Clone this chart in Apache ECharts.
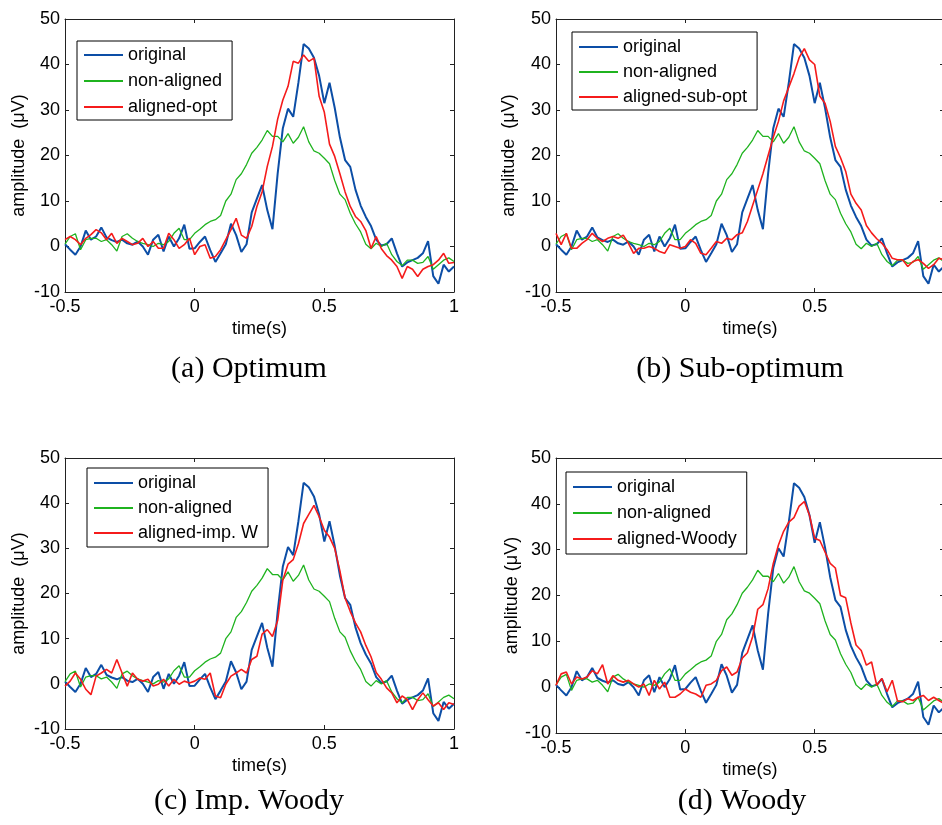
<!DOCTYPE html>
<html>
<head>
<meta charset="utf-8">
<script src="https://cdn.jsdelivr.net/npm/echarts@6/dist/echarts.min.js"></script>
<style>
  html, body { margin: 0; padding: 0; background: #fff; }
  #main { width: 942px; height: 825px; }
</style>
</head>
<body>
<div id="main"></div>
<script>
// sample times (s), 20 ms apart
const time = [];
for (let i = 0; i <= 75; i++) time.push(Math.round((-0.5 + i * 0.02) * 100) / 100);

// amplitudes (uV)
const original = [0.5, -0.7, -1.8, 0, 3.5, 1.5, 2.2, 4.2, 2, 1.4, 1, 1.5, 0.7, 0.4, 1.1, 0, -1.8, 1.5, 2.6, -1.1,
  2.2, 0, 1.8, 4.8, -0.5, -0.4, 1, 2.2, -0.8, -3.4, -1.5, 0.5, 5, 2.5, -1.2, 0.5, 7.5, 10.5, 13.5, 8,
  3.8, 16, 26, 30.3, 28.5, 36, 44.5, 43.5, 41.5, 37.5, 31.5, 36, 30.5, 24, 19, 17.5, 12.5, 9, 6.5, 4.5,
  1.5, 0.2, 0.5, 1.8, -1.5, -4.4, -3.5, -3, -2.5, -1.5, 1.2, -6.5, -8.2, -4, -5.5, -4.4];
const nonAligned = [0.5, 2.2, 2.8, -0.7, 1.5, 1.8, 1.8, 1.1, 1.5, 0.4, -1, 2.2, 2.8, 1.8, 1.1, 0.7, 0.4, 0, 0.7, 0.4,
  1.1, 2.9, 4, 1.5, 1.5, 2.9, 3.8, 4.8, 5.5, 5.9, 6.8, 10, 11.5, 14.7, 16, 18, 20.5, 21.8, 23.4, 25.5,
  24.2, 24.2, 23, 24.8, 22.7, 24, 26.3, 23, 21, 20.5, 19.4, 18.2, 14.5, 11.5, 10.3, 7.3, 5, 3.2, 0.5, -0.5,
  0.7, 0, 0.7, -1.8, -3.3, -4.2, -3, -3, -3.7, -3.5, -2.2, -5, -4, -3, -2.5, -3.3];
const alignedOpt = [1.5, 2.2, 1.5, 0.4, 1.8, 2.6, 3.7, 3, 1.5, 2.9, 0.7, 1.8, 1.1, 0.4, 0.7, 1.8, 0, 1.1, -0.4, -0.4,
  2.9, 1.5, -0.4, 0.4, 1.8, -1.8, 0, 0.4, -2.6, -2.2, -0.7, 1.5, 3.7, 6.2, 2.5, 1.8, 4.4, 8.8, 12, 17.6,
  22, 28, 32.2, 35.2, 40.7, 40.3, 42.1, 40.7, 41.4, 33, 29.5, 22.5, 19.8, 16, 12, 8.8, 6.6, 5.5, 3.5, -0.4,
  2.2, -0.5, -2, -3, -4.4, -7, -4.4, -5, -6.6, -5, -4.4, -4, -3, -1.5, -3.7, -3.5];
const alignedSubOpt = [2.9, 0.4, 2.9, -0.4, -0.4, 0.7, 1.5, 2.9, 1.8, 1.1, 1.8, 2.2, 1.8, 2.5, 0.7, -1.5, -0.4, -0.4, 0, -0.4,
  -1.1, -1.5, 0.4, 0, -0.4, 0, 1.5, 0.7, -1.5, -1.8, -0.4, 1.1, 0.7, 1.8, 1.5, 2.6, 3, 5.5, 9, 12.5,
  16, 20, 24, 27.5, 32, 35, 38, 41.5, 43.5, 41, 40, 33, 31.5, 27.5, 22, 19.5, 16.5, 11.5, 9.5, 8,
  4.6, 3, 1.7, 0.7, -0.7, -2.6, -2.9, -2.9, -4.4, -3.3, -2.9, -3.7, -4.8, -4, -2.6, -2.9];
const alignedImpW = [-0.5, 0.6, 2.4, 1, -1.2, -2.4, 1.7, 2.4, 3.2, 2.4, 5.4, 2.4, -0.5, 2.4, 1, 0.6, 1, -0.5, -0.1, 1,
  -0.5, 1, -0.1, 0.6, 0.2, 0.6, 1.3, 1, 2.4, -2.7, -3.1, -0.1, 1.7, 2.4, 3.2, 2.4, 5.4, 6.1, 11, 12,
  10.5, 14, 23, 26.5, 27.5, 31, 35.5, 37.5, 39.5, 37, 34, 32.5, 30, 25, 19, 16, 13.5, 11.5, 8.5, 6,
  2.5, 1, -0.9, -2, -4.2, -2.7, -3.5, -5.7, -3.5, -2, -3.5, -4.9, -4.2, -5.7, -4.2, -4.6];
const alignedWoody = [0.4, 2.9, 3.3, 0.7, 2.2, 1.8, 2.2, 3.6, 2.9, 4.9, 0.7, 2.5, 1.5, 1.1, 1.5, 0.7, 0, 0.7, -1.8, 1.5,
  -0.4, 1.1, -2.2, -2.2, -1.5, -0.4, -1.1, -1.5, -2.2, 0.4, 0.7, 1.5, 3.6, 4.4, 2.6, 3.3, 6.3, 7.5, 11, 17,
  18, 21.5, 27, 31, 34, 36, 37, 39.5, 40.5, 37.5, 32.5, 32, 29.5, 27, 26, 20, 19.5, 14, 9.2, 8,
  4.8, 5.5, 0.4, 1.9, -1, 1.5, -3, -3.2, -2.5, -2.9, -2.2, -1.8, -2.9, -2.2, -2.9, -3.6];

const xTicks = [-0.5, 0, 0.5, 1];
const yTicks = [-10, 0, 10, 20, 30, 40, 50];

const BLUE = '#0c4ea6', GREEN = '#1fb31f', RED = '#f51b1b', AXIS = '#222';
const SANS = 'Liberation Sans, Arial, sans-serif';

const panels = [
  { grid: { left: 65, top: 19, width: 389, height: 273 },
    legend: { left: 77, top: 41, padding: [4, 10, 3, 7], itemGap: 6 },
    red: alignedOpt, redName: 'aligned-opt', yName: 'amplitude  (\u03bcV)', yGap: 37,
    caption: '(a) Optimum', cx: 249, cy: 369, lastX: true },
  { grid: { left: 556, top: 19, width: 388, height: 273 },
    legend: { left: 572, top: 32, padding: [5, 10, 3, 7], itemGap: 5 },
    red: alignedSubOpt, redName: 'aligned-sub-opt', yName: 'amplitude  (\u03bcV)', yGap: 38,
    caption: '(b) Sub-optimum', cx: 740, cy: 369, lastX: false },
  { grid: { left: 65, top: 458, width: 389, height: 271 },
    legend: { left: 87, top: 468, padding: [5, 10, 4, 7], itemGap: 5 },
    red: alignedImpW, redName: 'aligned-imp. W', yName: 'amplitude  (\u03bcV)', yGap: 37,
    caption: '(c) Imp. Woody', cx: 249, cy: 801, lastX: true },
  { grid: { left: 556, top: 458, width: 388, height: 275 },
    legend: { left: 566, top: 472, padding: [5, 10, 5, 7], itemGap: 6 },
    red: alignedWoody, redName: 'aligned-Woody', yName: 'amplitude (\u03bcV)', yGap: 34,
    caption: '(d) Woody', cx: 742, cy: 801, lastX: false }
];

const zip = vals => time.map((t, i) => [t, vals[i]]);

const option = {
  animation: false,
  backgroundColor: '#fff',
  grid: [], xAxis: [], yAxis: [], legend: [], series: [], graphic: []
};

panels.forEach((p, k) => {
  option.grid.push(Object.assign({ show: false, containLabel: false, outerBoundsMode: 'none' }, p.grid));
  const xBase = {
    type: 'value', gridIndex: k,
    min: xTicks[0], max: xTicks[xTicks.length - 1], interval: xTicks[1] - xTicks[0],
    splitLine: { show: false },
    axisLine: { show: true, onZero: false, lineStyle: { color: AXIS, width: 1 } },
    axisTick: { show: true, inside: true, length: 4, lineStyle: { color: AXIS } }
  };
  option.xAxis.push(Object.assign({}, xBase, {
    position: 'bottom',
    axisLabel: { color: '#000', fontSize: 18, fontFamily: SANS, margin: 6, showMaxLabel: p.lastX },
    name: 'time(s)', nameLocation: 'middle', nameGap: 28,
    nameTextStyle: { color: '#000', fontSize: 18, fontFamily: SANS }
  }));
  option.xAxis.push(Object.assign({}, xBase, { position: 'top', axisLabel: { show: false } }));

  const yBase = {
    type: 'value', gridIndex: k,
    min: yTicks[0], max: yTicks[yTicks.length - 1], interval: yTicks[1] - yTicks[0],
    splitLine: { show: false },
    axisLine: { show: true, onZero: false, lineStyle: { color: AXIS, width: 1 } },
    axisTick: { show: true, inside: true, length: 4, lineStyle: { color: AXIS } }
  };
  option.yAxis.push(Object.assign({}, yBase, {
    position: 'left',
    axisLabel: { color: '#000', fontSize: 18, fontFamily: SANS, margin: 5 },
    name: p.yName, nameLocation: 'middle', nameGap: p.yGap, nameRotate: 90,
    nameTextStyle: { color: '#000', fontSize: 18, fontFamily: SANS }
  }));
  option.yAxis.push(Object.assign({}, yBase, { position: 'right', axisLabel: { show: false } }));

  const lines = [
    { name: 'original', data: original, color: BLUE, width: 2 },
    { name: 'non-aligned', data: nonAligned, color: GREEN, width: 1.3 },
    { name: p.redName, data: p.red, color: RED, width: 1.6 }
  ];
  lines.forEach(l => {
    option.series.push({
      type: 'line', name: l.name, xAxisIndex: k * 2, yAxisIndex: k * 2,
      data: zip(l.data), symbol: 'none', silent: true,
      color: l.color, lineStyle: { color: l.color, width: l.width }
    });
  });

  option.legend.push(Object.assign({
    orient: 'vertical', data: lines.map(l => l.name),
    icon: 'rect', itemWidth: 39, itemHeight: 2,
    backgroundColor: '#fff', borderColor: '#000', borderWidth: 1, borderRadius: 0,
    selectedMode: false,
    textStyle: { color: '#000', fontSize: 18, fontFamily: SANS, lineHeight: 20 }
  }, p.legend));

  option.graphic.push({
    type: 'text', x: p.cx, y: p.cy,
    style: { text: p.caption, textAlign: 'center', textVerticalAlign: 'middle',
      font: '30px "Liberation Serif", "Times New Roman", serif', fill: '#000' }
  });
});

const chart = echarts.init(document.getElementById('main'), null, { renderer: 'canvas' });
chart.setOption(option);
</script>
</body>
</html>
